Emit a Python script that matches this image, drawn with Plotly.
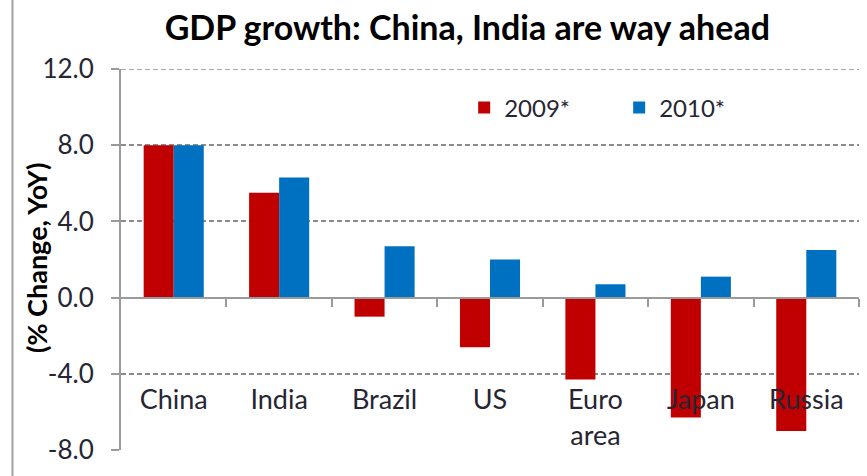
import plotly.graph_objects as go

# GDP growth forecasts, % change year on year
countries = ["China", "India", "Brazil", "US", "Euro<br>area", "Japan", "Russia"]
growth_2009 = [8.0, 5.5, -1.0, -2.6, -4.3, -6.3, -7.0]
growth_2010 = [8.0, 6.3, 2.7, 2.0, 0.7, 1.1, 2.5]
series_names = ["2009*", "2010*"]
y_ticks = [-8, -4, 0, 4, 8, 12]

RED = "#C00000"
BLUE = "#0070C0"
AXIS_GREY = "#9a9a9a"
GRID_GREY = "#8c8c8c"
TEXT = "#262633"
FONT = "Lato"

W, H = 867, 476
ML, MR, MT, MB = 121, 8, 69, 26
y_min, y_max = -8, 12
plot_w = W - ML - MR
plot_h = H - MT - MB

idx = list(range(len(countries)))

fig = go.Figure()
fig.add_trace(go.Bar(x=idx, y=growth_2009, name=series_names[0],
                     marker=dict(color=RED, line=dict(width=0))))
fig.add_trace(go.Bar(x=idx, y=growth_2010, name=series_names[1],
                     marker=dict(color=BLUE, line=dict(width=0))))

zero_pos = (0 - y_min) / (y_max - y_min)
label_pos = zero_pos - 0.22

fig.update_layout(
    width=W, height=H,
    margin=dict(l=ML, r=MR, t=MT, b=MB),
    paper_bgcolor="white", plot_bgcolor="white",
    barmode="group", bargap=0.43, bargroupgap=0,
    font=dict(family=FONT, color=TEXT, size=26),
    title=dict(text="<b>GDP growth: China, India are way ahead</b>",
               x=0.539, xanchor="center", y=0.941, yanchor="middle",
               font=dict(family=FONT, size=34, color="black")),
    showlegend=True,
    legend=dict(orientation="h", x=0.465, xanchor="left", y=0.898, yanchor="middle",
                font=dict(family=FONT, size=24, color=TEXT),
                entrywidth=110, entrywidthmode="pixels",
                bgcolor="rgba(0,0,0,0)"),
    # boundary axis along the zero line, ticks between the country groups
    xaxis=dict(range=[-0.5, len(countries) - 0.5], anchor="free", position=zero_pos,
               showline=True, linecolor=AXIS_GREY, linewidth=2,
               ticks="outside", ticklen=8, tickwidth=2, tickcolor=AXIS_GREY,
               tickvals=[i + 0.5 for i in idx], showticklabels=False,
               showgrid=False, zeroline=False),
    # country names under the plot body
    xaxis2=dict(range=[-0.5, len(countries) - 0.5], overlaying="x", anchor="free",
                position=label_pos, showline=False, ticks="",
                tickvals=idx, ticktext=countries, showgrid=False, zeroline=False,
                tickfont=dict(family=FONT, size=27, color=TEXT)),
    yaxis=dict(range=[y_min, y_max], tickvals=y_ticks,
               ticktext=[f"{v:.1f}" for v in y_ticks],
               showline=True, linecolor=AXIS_GREY, linewidth=2,
               ticks="outside", ticklen=8, tickwidth=2, tickcolor=AXIS_GREY,
               ticklabelstandoff=12,
               showgrid=True, gridcolor=GRID_GREY, gridwidth=1.5, griddash="5px,3px",
               zeroline=False, tickfont=dict(family=FONT, size=26, color=TEXT)),
)

# dashed rule along the top of the value range (the edge gridline is not drawn by default)
fig.add_shape(type="line", xref="paper", yref="y", layer="below",
              x0=0, x1=1, y0=y_ticks[-1], y1=y_ticks[-1],
              line=dict(color=GRID_GREY, width=1.5, dash="5px,3px"))

# y-axis caption, set close to the tick labels
fig.add_annotation(text="<b>(% Change, YoY)</b>", textangle=-90,
                   xref="paper", yref="paper",
                   x=(36 - ML) / plot_w, y=(H - MB - 258) / plot_h,
                   xanchor="center", yanchor="middle", showarrow=False,
                   font=dict(family=FONT, size=27, color="black"))

# dummy trace so that xaxis2 is rendered
fig.add_trace(go.Scatter(x=[idx[0]], y=[0], xaxis="x2", mode="markers",
                         marker=dict(opacity=0), showlegend=False, hoverinfo="skip"))

# frame line on the left edge of the chart
fig.add_shape(type="line", xref="paper", yref="paper",
              x0=(12.5 - ML) / plot_w, x1=(12.5 - ML) / plot_w,
              y0=-MB / plot_h, y1=1 + MT / plot_h,
              line=dict(color="#a0a0a0", width=2))

fig.write_html("out.html")
